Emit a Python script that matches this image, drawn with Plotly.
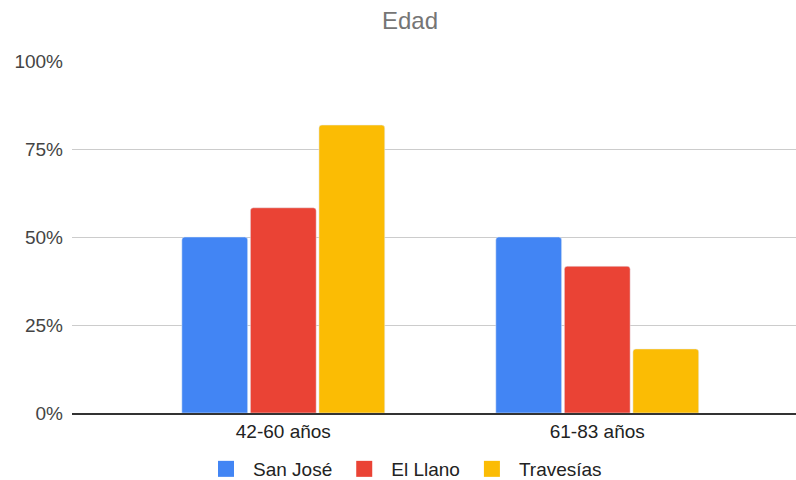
import plotly.graph_objects as go

categories = ["42-60 años", "61-83 años"]
series_names = ["San José", "El Llano", "Travesías"]
san_jose = [50.0, 50.0]
el_llano = [58.3, 41.7]
travesias = [81.8, 18.2]
colors = ["#4285F4", "#EA4335", "#FBBC04"]
y_ticks = [0, 25, 50, 75, 100]

FONT = "Arial, Liberation Sans, sans-serif"

fig = go.Figure()
for name, vals, col in zip(series_names, [san_jose, el_llano, travesias], colors):
    fig.add_trace(go.Bar(x=categories, y=vals, name=name, marker=dict(color=col, cornerradius=3),
                         showlegend=False))
    fig.add_trace(go.Scatter(x=[None], y=[None], mode="markers", name=name,
                             marker=dict(symbol="square", size=16, color=col)))

fig.update_layout(
    width=796, height=480,
    margin=dict(l=72, r=0, t=61, b=67),
    paper_bgcolor="white", plot_bgcolor="white",
    barmode="group", bargap=0.345, bargroupgap=0.04,
    font=dict(family=FONT, size=19, color="#444444"),
    title=dict(text="Edad", x=410/796, xref="container", xanchor="center",
               y=1-21/480, yref="container", yanchor="middle",
               font=dict(family=FONT, size=24, color="#757575")),
    legend=dict(orientation="h", x=403/796, xref="container", xanchor="center",
                y=1-469/480, yref="container", yanchor="middle",
                font=dict(family=FONT, size=19, color="#222222"),
                itemwidth=44, tracegroupgap=0),
    showlegend=True,
)
fig.update_xaxes(type="category", range=[-0.673, 1.633], showgrid=False,
                 showline=True, linecolor="#333333", linewidth=1.5,
                 ticks="", tickfont=dict(size=19, color="#222222"))
fig.update_yaxes(range=[0, 100], tickvals=y_ticks, ticktext=[f"{v}%" for v in y_ticks],
                 showgrid=True, gridcolor="#cccccc", gridwidth=1, zeroline=False,
                 ticks="", ticklabelstandoff=8, tickfont=dict(size=19, color="#444444"),
                 showline=False)

fig.write_html("out.html")
